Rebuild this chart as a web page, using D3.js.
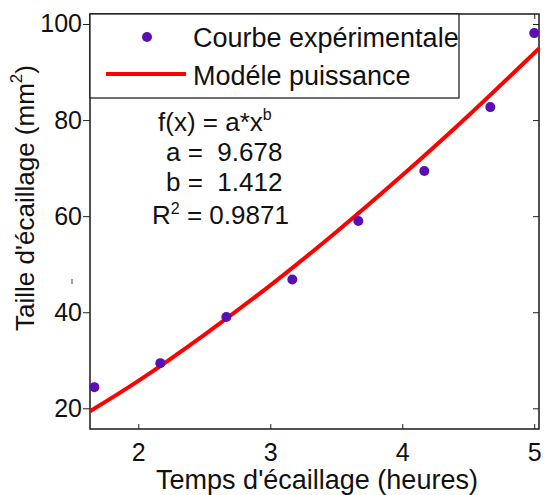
<!DOCTYPE html>
<html>
<head>
<meta charset="utf-8">
<script src="https://cdn.jsdelivr.net/npm/d3@7"></script>
<style>
  html, body { margin: 0; padding: 0; background: #ffffff; }
  svg { display: block; font-family: "Liberation Sans", Arial, sans-serif; }
</style>
</head>
<body>
<svg id="chart" width="544" height="495"></svg>
<script>
// ---- data ----
const timeHours = [1.667, 2.167, 2.667, 3.167, 3.667, 4.167, 4.667, 5.0];
const scaleSize = [24.4, 29.4, 39.0, 46.8, 59.0, 69.4, 82.7, 98.1];
const fitTime = [1.634, 2.0, 2.5, 3.0, 3.5, 4.0, 4.5, 5.036];
const fitSize = [19.4, 25.7, 35.3, 45.6, 56.7, 68.5, 80.9, 94.9];
const xTicks = [2, 3, 4, 5];
const yTicks = [20, 40, 60, 80, 100];
const legendLabels = ["Courbe expérimentale", "Modéle puissance"];
const fitText = ["f(x) = a*x", "a =  9.678", "b =  1.412", " = 0.9871"];

const svg = d3.select("#chart");
const L = 90, R = 539, T = 14, B = 429;
const x = d3.scaleLinear().domain([1.634, 5.036]).range([L, R]);
const y = d3.scaleLinear().domain([15.69, 102.08]).range([B, T]);

const dotColor = "#5a0fb4";

// axes
const gx = svg.append("g").attr("transform", `translate(0,${B})`)
  .call(d3.axisBottom(x).tickValues(xTicks).tickSizeInner(-5).tickSizeOuter(0).tickPadding(14).tickFormat(d3.format("d")));
const gxTop = svg.append("g").attr("transform", `translate(0,${T})`)
  .call(d3.axisTop(x).tickValues(xTicks).tickSizeInner(-5).tickSizeOuter(0).tickFormat(""));
const gy = svg.append("g").attr("transform", `translate(${L},0)`)
  .call(d3.axisLeft(y).tickValues(yTicks).tickSizeInner(7).tickSizeOuter(0).tickPadding(1).tickFormat(d3.format("d")));
const gyR = svg.append("g").attr("transform", `translate(${R},0)`)
  .call(d3.axisRight(y).tickValues(yTicks).tickSizeInner(-6).tickSizeOuter(0).tickFormat(""));
[gx, gxTop, gy, gyR].forEach(g => {
  g.select(".domain").remove();
  g.selectAll("line").attr("stroke", "#222").attr("stroke-width", 1);
  g.selectAll("text").attr("font-size", 25).attr("fill", "#111").attr("font-family", "Liberation Sans, Arial, sans-serif");
});

// frame
svg.append("rect").attr("x", L).attr("y", T).attr("width", R - L).attr("height", B - T)
  .attr("fill", "none").attr("stroke", "#1a1a1a").attr("stroke-width", 1.5);

// fit line
const line = d3.line().x((d, i) => x(fitTime[i])).y(d => y(d)).curve(d3.curveNatural);
svg.append("path").datum(fitSize).attr("d", line)
  .attr("fill", "none").attr("stroke", "#ff0000").attr("stroke-width", 4);

// points
svg.append("g").selectAll("circle").data(scaleSize).join("circle")
  .attr("cx", (d, i) => x(timeHours[i])).attr("cy", d => y(d)).attr("r", 5)
  .attr("fill", dotColor);

// legend
const lg = svg.append("g");
lg.append("rect").attr("x", L).attr("y", T).attr("width", 369).attr("height", 84)
  .attr("fill", "#fff").attr("stroke", "#111").attr("stroke-width", 1.2);
lg.append("circle").attr("cx", 147).attr("cy", 37).attr("r", 5).attr("fill", dotColor);
lg.append("line").attr("x1", 106).attr("x2", 186).attr("y1", 74).attr("y2", 74)
  .attr("stroke", "#ff0000").attr("stroke-width", 4);
lg.selectAll("text").data(legendLabels).join("text")
  .attr("x", 193).attr("y", (d, i) => 47 + i * 38)
  .attr("font-size", 27).attr("fill", "#111").text(d => d);

// fit annotation
const ann = svg.append("g").attr("font-size", 26).attr("fill", "#111");
const t0 = ann.append("text").attr("x", 158).attr("y", 131).attr("xml:space", "preserve");
t0.append("tspan").text(fitText[0]);
t0.append("tspan").attr("font-size", 16).attr("dy", -11).text("b");
ann.append("text").attr("x", 166).attr("y", 161).attr("xml:space", "preserve").text(fitText[1]);
ann.append("text").attr("x", 166).attr("y", 191).attr("xml:space", "preserve").text(fitText[2]);
const t3 = ann.append("text").attr("x", 152).attr("y", 224).attr("xml:space", "preserve");
t3.append("tspan").text("R");
t3.append("tspan").attr("font-size", 16).attr("dy", -10).text("2");
t3.append("tspan").attr("dy", 10).text(fitText[3]);

// axis titles
svg.append("text").attr("x", 317).attr("y", 489).attr("text-anchor", "middle")
  .attr("font-size", 27).attr("fill", "#111").text("Temps d'écaillage (heures)");
const yt = svg.append("text").attr("transform", "translate(34,198) rotate(-90)")
  .attr("text-anchor", "middle").attr("font-size", 26).attr("fill", "#111");
yt.append("tspan").text("Taille d'écaillage (mm");
yt.append("tspan").attr("font-size", 17).attr("dy", -12).text("2");
yt.append("tspan").attr("dy", 12).text(")");

// small stray mark left of the axis
svg.append("line").attr("x1", 72).attr("x2", 72).attr("y1", 279).attr("y2", 284)
  .attr("stroke", "#444").attr("stroke-width", 1);
</script>
</body>
</html>
